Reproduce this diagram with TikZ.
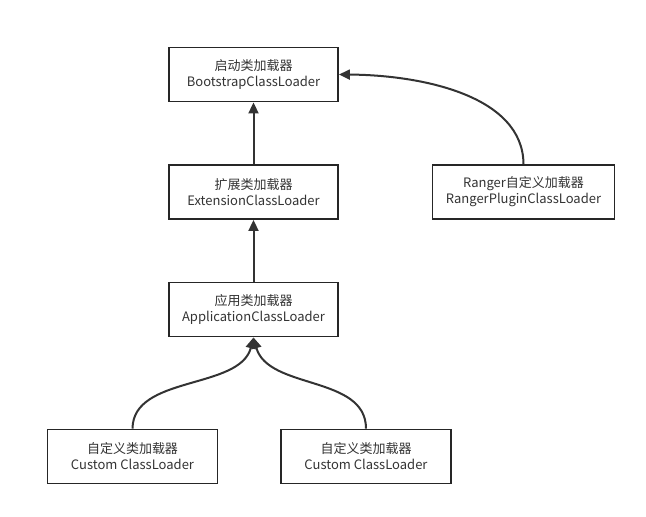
\documentclass[tikz,border=0pt]{standalone}
\usepackage{fontspec}
\setmainfont{Noto Sans CJK SC}
\usetikzlibrary{arrows.meta}

\begin{document}
\begin{tikzpicture}[x=1pt,y=-1pt,
  loader/.style={draw=black!85, line width=1.9pt, minimum width=169pt, minimum height=54pt, align=center, font=\fontsize{13}{16}\selectfont, text=black!80},
  link/.style={draw=black!80, line width=2pt, -{Triangle[length=11pt,width=10pt]}}]
  \useasboundingbox (0,0) rectangle (646,517);
  %\draw[very thin,color=gray] (0,0) grid[step=50] (646,517);
  \node[loader] (boot) at (253.5,74.5) {启动类加载器\\BootstrapClassLoader};
  \node[loader] (ext) at (253.5,192) {扩展类加载器\\ExtensionClassLoader};
  \node[loader] (app) at (253.5,309.5) {应用类加载器\\ApplicationClassLoader};
  \node[loader, minimum width=182pt] (ranger) at (523.5,192) {Ranger自定义加载器\\RangerPluginClassLoader};
  \node[loader, minimum width=170pt] (cust1) at (132.5,456.5) {自定义类加载器\\Custom ClassLoader};
  \node[loader, minimum width=170pt] (cust2) at (366,456.5) {自定义类加载器\\Custom ClassLoader};

  \draw[link] (ext) -- (boot);
  \draw[link] (app) -- (ext);
  \draw[link] (ranger.north) .. controls (523,95) and (420,75) .. (boot.east);
  \draw[link] (cust1.north) .. controls (133,375) and (240,390) .. (app.south);
  \draw[link] (cust2.north) .. controls (366,375) and (268,390) .. (app.south);
\end{tikzpicture}
\end{document}
